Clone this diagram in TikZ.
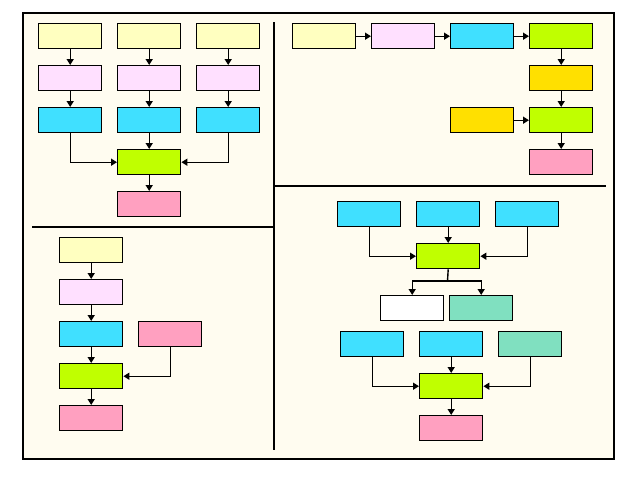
\documentclass[tikz,border=0pt]{standalone}
\usetikzlibrary{arrows.meta}
\definecolor{cYel}{HTML}{FFFFC0}
\definecolor{cLpk}{HTML}{FFE0FF}
\definecolor{cCyn}{HTML}{40E0FF}
\definecolor{cGrn}{HTML}{C0FF00}
\definecolor{cPnk}{HTML}{FFA0C0}
\definecolor{cOrg}{HTML}{FFE000}
\definecolor{cTel}{HTML}{80E0C0}
\definecolor{cBg}{HTML}{FFFCF0}
\begin{document}
\begin{tikzpicture}[x=1pt,y=-1pt,
  bx/.style={draw,line width=1.4pt,minimum width=63pt,minimum height=25pt,inner sep=0pt,anchor=north west},
  ar/.style={line width=1.4pt,-{Triangle[length=6pt,width=7pt]}},
  ln/.style={line width=1.4pt}]
\useasboundingbox (0,0) rectangle (640,480);
\fill[white] (0,0) rectangle (640,480);
\draw[fill=cBg,line width=1.6pt] (23,13) rectangle (614,459);
\draw[ln] (274,22) -- (274,450);
\draw[ln] (32,227) -- (274,227);
\draw[ln] (274,186) -- (606,186);
% top-left
\foreach \c/\x in {a/38,b/117,c/196}{
  \node[bx,fill=cYel] (\c1) at (\x,23) {};
  \node[bx,fill=cLpk] (\c2) at (\x,65) {};
  \node[bx,fill=cCyn] (\c3) at (\x,107) {};
  \draw[ar] (\c1) -- (\c2);
  \draw[ar] (\c2) -- (\c3);
}
\node[bx,fill=cGrn] (tg) at (117,149) {};
\node[bx,fill=cPnk] (tp) at (117,191) {};
\draw[ar] (b3) -- (tg);
\draw[ar] (a3.south) |- (tg.west);
\draw[ar] (c3.south) |- (tg.east);
\draw[ar] (tg) -- (tp);
% top-right
\node[bx,fill=cYel] (r1) at (292,23) {};
\node[bx,fill=cLpk] (r2) at (371,23) {};
\node[bx,fill=cCyn] (r3) at (450,23) {};
\node[bx,fill=cGrn] (r4) at (529,23) {};
\node[bx,fill=cOrg] (r5) at (529,65) {};
\node[bx,fill=cOrg] (r6) at (450,107) {};
\node[bx,fill=cGrn] (r7) at (529,107) {};
\node[bx,fill=cPnk] (r8) at (529,149) {};
\draw[ar] (r1) -- (r2);
\draw[ar] (r2) -- (r3);
\draw[ar] (r3) -- (r4);
\draw[ar] (r4) -- (r5);
\draw[ar] (r5) -- (r7);
\draw[ar] (r6) -- (r7);
\draw[ar] (r7) -- (r8);
% bottom-left
\node[bx,fill=cYel] (l1) at (59,237) {};
\node[bx,fill=cLpk] (l2) at (59,279) {};
\node[bx,fill=cCyn] (l3) at (59,321) {};
\node[bx,fill=cPnk] (l4) at (138,321) {};
\node[bx,fill=cGrn] (l5) at (59,363) {};
\node[bx,fill=cPnk] (l6) at (59,405) {};
\draw[ar] (l1) -- (l2);
\draw[ar] (l2) -- (l3);
\draw[ar] (l3) -- (l5);
\draw[ar] (l4.south) |- (l5.east);
\draw[ar] (l5) -- (l6);
% bottom-right
\node[bx,fill=cCyn] (m1) at (337,201) {};
\node[bx,fill=cCyn] (m2) at (416,201) {};
\node[bx,fill=cCyn] (m3) at (495,201) {};
\node[bx,fill=cGrn] (m4) at (416,243) {};
\node[bx,fill=white] (m5) at (380,295) {};
\node[bx,fill=cTel] (m6) at (449,295) {};
\node[bx,fill=cCyn] (n1) at (340,331) {};
\node[bx,fill=cCyn] (n2) at (419,331) {};
\node[bx,fill=cTel] (n3) at (498,331) {};
\node[bx,fill=cGrn] (n4) at (419,373) {};
\node[bx,fill=cPnk] (n5) at (419,415) {};
\draw[ar] (m2) -- (m4);
\draw[ar] (m1.south) |- (m4.west);
\draw[ar] (m3.south) |- (m4.east);
\coordinate (sp) at (447.5,281);
\draw[ln] (m4.south) -- (sp);
\draw[ar] (sp) -| (m5.north);
\draw[ar] (sp) -| (m6.north);
\draw[ar] (n2) -- (n4);
\draw[ar] (n1.south) |- (n4.west);
\draw[ar] (n3.south) |- (n4.east);
\draw[ar] (n4) -- (n5);
\end{tikzpicture}
\end{document}
